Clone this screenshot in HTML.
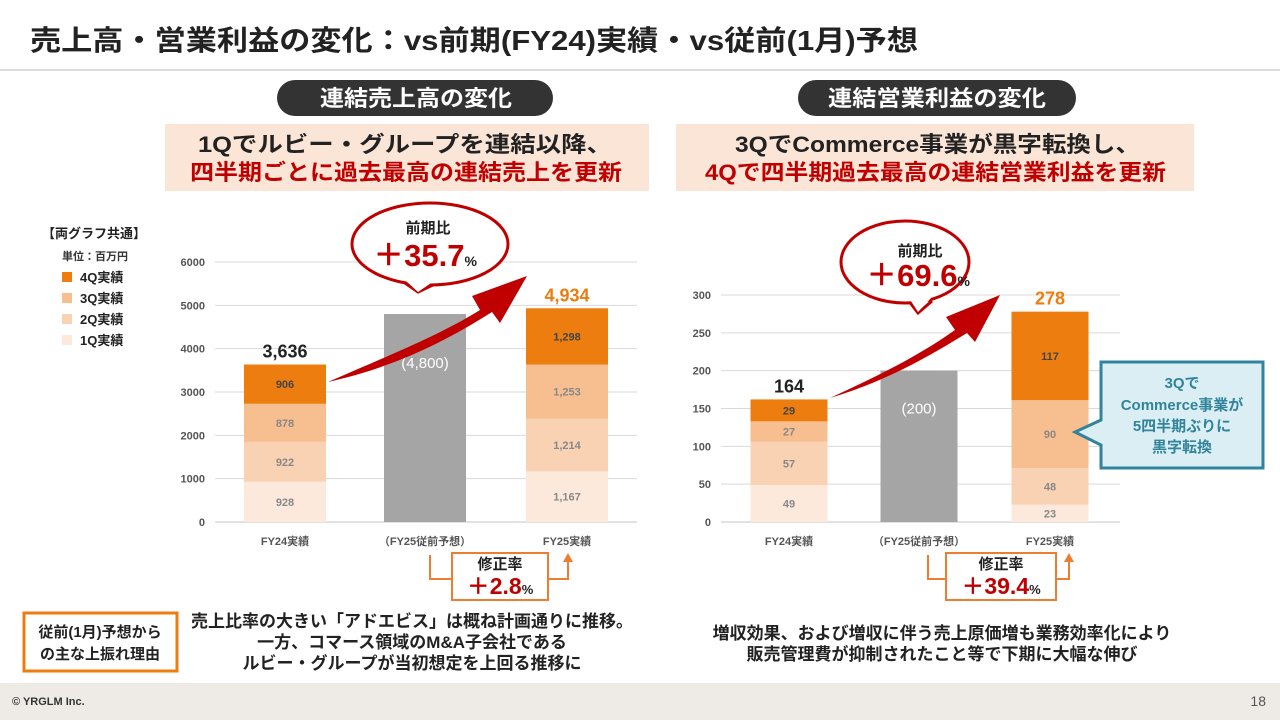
<!DOCTYPE html>
<html lang="ja"><head><meta charset="utf-8">
<style>
html,body{margin:0;padding:0;background:#fff;}
body{width:1280px;height:720px;overflow:hidden;position:relative;font-family:"Liberation Sans","Noto Sans CJK JP",sans-serif;}
svg text{font-family:"Liberation Sans","Noto Sans CJK JP",sans-serif;}
</style></head>
<body>
<svg id="s" width="1280" height="720" viewBox="0 0 1280 720" xmlns="http://www.w3.org/2000/svg">
<text x="30" y="50" font-size="28" font-weight="bold" fill="#222" textLength="888" lengthAdjust="spacingAndGlyphs">売上高・営業利益の変化：vs前期(FY24)実績・vs従前(1月)予想</text>
<line x1="0" y1="70" x2="1280" y2="70" stroke="#d0d0d0" stroke-width="1.5"/>

<rect x="277" y="80" width="276" height="36" rx="18" fill="#333"/>
<text x="320" y="106" font-size="22" font-weight="bold" fill="#fff" textLength="192" lengthAdjust="spacingAndGlyphs">連結売上高の変化</text>
<rect x="798" y="80" width="278" height="36" rx="18" fill="#333"/>
<text x="828" y="106" font-size="22" font-weight="bold" fill="#fff" textLength="218" lengthAdjust="spacingAndGlyphs">連結営業利益の変化</text>

<rect x="165" y="124" width="484" height="67" fill="#fbe5d6"/>
<text x="198" y="152" font-size="22" font-weight="bold" fill="#222" textLength="414" lengthAdjust="spacingAndGlyphs">1Qでルビー・グループを連結以降、</text>
<text x="190" y="180" font-size="22" font-weight="bold" fill="#c00000" textLength="432" lengthAdjust="spacingAndGlyphs">四半期ごとに過去最高の連結売上を更新</text>
<rect x="676" y="124" width="518" height="67" fill="#fbe5d6"/>
<text x="735" y="152" font-size="22" font-weight="bold" fill="#222" textLength="405" lengthAdjust="spacingAndGlyphs">3QでCommerce事業が黒字転換し、</text>
<text x="705" y="180" font-size="22" font-weight="bold" fill="#c00000" textLength="461" lengthAdjust="spacingAndGlyphs">4Qで四半期過去最高の連結営業利益を更新</text>

<g>
<text x="42" y="238" font-size="13" font-weight="bold" fill="#222">【両グラフ共通】</text>
<text x="62" y="260" font-size="11" font-weight="bold" fill="#333">単位：百万円</text>
<rect x="62" y="272" width="10" height="10" fill="#ed7d0f"/><text x="80" y="282" font-size="13" font-weight="bold" fill="#222">4Q実績</text>
<rect x="62" y="293" width="10" height="10" fill="#f7be8f"/><text x="80" y="303" font-size="13" font-weight="bold" fill="#222">3Q実績</text>
<rect x="62" y="314" width="10" height="10" fill="#f9d2b4"/><text x="80" y="324" font-size="13" font-weight="bold" fill="#222">2Q実績</text>
<rect x="62" y="335" width="10" height="10" fill="#fce9dc"/><text x="80" y="345" font-size="13" font-weight="bold" fill="#222">1Q実績</text>
</g>

<g id="left"></g>
<g id="right"></g>

<!-- arrows -->
<path d="M328 382 C390 355 440 335 480 310 L472 296 L527 276 L500 323 L492 312 C440 345 390 368 328 382 Z" fill="#c00000"/>
<path d="M830 398 C880 375 920 355 955 330 L946 317 L1000 295 L975 342 L967 333 C920 362 880 383 830 398 Z" fill="#c00000"/>

<!-- bubbles -->
<g>
<path d="M405 283 L418 292 L435 284" fill="#fff" stroke="#c00000" stroke-width="3"/>
<ellipse cx="430" cy="244" rx="78" ry="41" fill="#fff" stroke="#c00000" stroke-width="3"/>
<path d="M406 281 L418 292 L434 281" fill="#fff" stroke="none"/>
<text x="428" y="233" font-size="15" font-weight="bold" fill="#222" text-anchor="middle">前期比</text>
<text x="425" y="266" font-size="31" font-weight="bold" fill="#c00000" text-anchor="middle">＋35.7<tspan font-size="14" fill="#222">%</tspan></text>
</g>
<g>
<path d="M908 300 L918 313 L932 301" fill="#fff" stroke="#c00000" stroke-width="3"/>
<ellipse cx="905" cy="262" rx="64" ry="41" fill="#fff" stroke="#c00000" stroke-width="3"/>
<path d="M909 298 L918 312 L931 298" fill="#fff" stroke="none"/>
<text x="920" y="256" font-size="15" font-weight="bold" fill="#222" text-anchor="middle">前期比</text>
<text x="918" y="286" font-size="31" font-weight="bold" fill="#c00000" text-anchor="middle">＋69.6<tspan font-size="14" fill="#222">%</tspan></text>
</g>

<!-- revision boxes -->
<g>
<path d="M430 555 V579 H452 M548 579 H568 V558" fill="none" stroke="#ed7d31" stroke-width="2"/>
<path d="M563 562 L568 553 L573 562 Z" fill="#ed7d31"/>
<rect x="452" y="553" width="96" height="47" fill="#fff" stroke="#ed7d31" stroke-width="2"/>
<text x="500" y="569" font-size="15" font-weight="bold" fill="#222" text-anchor="middle">修正率</text>
<text x="500" y="594" font-size="23" font-weight="bold" fill="#c00000" text-anchor="middle">＋2.8<tspan font-size="13" fill="#222">%</tspan></text>
</g>
<g>
<path d="M928 555 V579 H946 M1056 579 H1069 V558" fill="none" stroke="#ed7d31" stroke-width="2"/>
<path d="M1064 562 L1069 553 L1074 562 Z" fill="#ed7d31"/>
<rect x="946" y="553" width="110" height="47" fill="#fff" stroke="#ed7d31" stroke-width="2"/>
<text x="1001" y="569" font-size="15" font-weight="bold" fill="#222" text-anchor="middle">修正率</text>
<text x="1001" y="594" font-size="23" font-weight="bold" fill="#c00000" text-anchor="middle">＋39.4<tspan font-size="13" fill="#222">%</tspan></text>
</g>

<!-- callout -->
<g>
<path d="M1101 362 H1263 V468 H1101 V445 L1075 432 L1101 420 Z" fill="#daeef3" stroke="#31849b" stroke-width="3"/>
<text x="1182" y="388" font-size="15" font-weight="bold" fill="#31849b" text-anchor="middle">3Qで</text>
<text x="1182" y="410" font-size="15" font-weight="bold" fill="#31849b" text-anchor="middle">Commerce事業が</text>
<text x="1182" y="431" font-size="15" font-weight="bold" fill="#31849b" text-anchor="middle">5四半期ぶりに</text>
<text x="1182" y="452" font-size="15" font-weight="bold" fill="#31849b" text-anchor="middle">黒字転換</text>
</g>

<g>
<rect x="24" y="613" width="153" height="58" fill="#fff" stroke="#ed7d0f" stroke-width="3"/>
<text x="100" y="637" font-size="15" font-weight="bold" fill="#222" text-anchor="middle">従前(1月)予想から</text>
<text x="100" y="659" font-size="15" font-weight="bold" fill="#222" text-anchor="middle">の主な上振れ理由</text>
</g>
<g font-size="17" font-weight="bold" fill="#222" text-anchor="middle">
<text x="412" y="627">売上比率の大きい「アドエビス」は概ね計画通りに推移。</text>
<text x="412" y="648">一方、コマース領域のM&amp;A子会社である</text>
<text x="412" y="669">ルビー・グループが当初想定を上回る推移に</text>
</g>
<g font-size="17" font-weight="bold" fill="#222" text-anchor="middle">
<text x="942" y="639">増収効果、および増収に伴う売上原価増も業務効率化により</text>
<text x="942" y="660">販売管理費が抑制されたこと等で下期に大幅な伸び</text>
</g>

<rect x="0" y="683" width="1280" height="37" fill="#eeebe7"/>
<text x="12" y="705" font-size="11" font-weight="bold" fill="#333">© YRGLM Inc.</text>
<text x="1266" y="706" font-size="14" fill="#555" text-anchor="end">18</text>
</svg>
<script>
const categories = ["FY24実績", "（FY25従前予想）", "FY25実績"];
const salesQ1 = [928, null, 1167];
const salesQ2 = [922, null, 1214];
const salesQ3 = [878, null, 1253];
const salesQ4 = [906, null, 1298];
const salesForecast = [null, 4800, null];
const salesTotals = ["3,636", "", "4,934"];
const salesTicks = [0, 1000, 2000, 3000, 4000, 5000, 6000];
const profitQ1 = [49, null, 23];
const profitQ2 = [57, null, 48];
const profitQ3 = [27, null, 90];
const profitQ4 = [29, null, 117];
const profitForecast = [null, 200, null];
const profitTotals = ["164", "", "278"];
const profitTicks = [0, 50, 100, 150, 200, 250, 300];

const NS = "http://www.w3.org/2000/svg";
const colors = ["#fce9dc", "#f9d2b4", "#f7be8f", "#ed7d0f"];
function mk(parent, tag, attrs, txt) {
  const e = document.createElementNS(NS, tag);
  for (const k in attrs) e.setAttribute(k, attrs[k]);
  if (txt !== undefined) e.textContent = txt;
  parent.appendChild(e);
  return e;
}
function fmt(v) { return v.toLocaleString("en-US"); }
function draw(g, cfg) {
  const y = v => cfg.y0 - (v / cfg.max) * (cfg.y0 - cfg.yTop);
  const x = i => cfg.centers[i];
  cfg.ticks.forEach(t => {
    const l = mk(g, "line", {x1: cfg.gx1, x2: cfg.gx2, y1: y(t), y2: y(t), stroke: "#d9d9d9", "stroke-width": t === 0 ? 1.5 : 1});
    
    
    const tx = mk(g, "text", {x: cfg.gx1 - 10, y: y(t) + 4, "font-size": 11, "font-weight": "bold", fill: "#555", "text-anchor": "end"}, t);
    
    
  });
  const series = cfg.series;
  categories.forEach((c, i) => {
    const cl = mk(g, "text", {x: x(i), y: 545, "font-size": 11, "font-weight": "bold", fill: "#555", "text-anchor": "middle"}, c);
    
    
    if (cfg.forecast[i] != null) {
      const r = mk(g, "rect", {x: x(i) - cfg.bw / 2, y: y(cfg.forecast[i]), width: cfg.bw, height: cfg.y0 - y(cfg.forecast[i]), fill: "#a5a5a5"});
      
      
      const ft = mk(g, "text", {x: x(i), y: y(cfg.forecast[i]) + cfg.fOff, "font-size": 15, fill: "#fff", "text-anchor": "middle"}, "(" + fmt(cfg.forecast[i]) + ")");
      
      
      return;
    }
    let acc = 0;
    series.forEach((s, k) => {
      const v = s[i];
      const top = y(acc + v), bot = y(acc);
      const r = mk(g, "rect", {x: x(i) - cfg.bw / 2, y: top, width: cfg.bw, height: bot - top, fill: colors[k]});
      
      
      const lt = mk(g, "text", {x: x(i), y: (top + bot) / 2 + 4, "font-size": 11, "font-weight": "bold", fill: k === 3 ? "#444" : "#888", "text-anchor": "middle"}, fmt(v));
      
      
      acc += v;
    });
    const tt = mk(g, "text", {x: x(i), y: y(acc) - 7, "font-size": 18, "font-weight": "bold", fill: i === 2 ? "#ed7d0f" : "#222", "text-anchor": "middle"}, cfg.totals[i]);
    
    
  });
}
draw(document.getElementById("left"), {
  y0: 522, yTop: 262, max: 6000, gx1: 215, gx2: 637, centers: [285, 425, 567], bw: 82,
  ticks: salesTicks, series: [salesQ1, salesQ2, salesQ3, salesQ4], forecast: salesForecast, totals: salesTotals, fOff: 54
});
draw(document.getElementById("right"), {
  y0: 522, yTop: 295, max: 300, gx1: 721, gx2: 1120, centers: [789, 919, 1050], bw: 77,
  ticks: profitTicks, series: [profitQ1, profitQ2, profitQ3, profitQ4], forecast: profitForecast, totals: profitTotals, fOff: 43
});
</script>
</body></html>
